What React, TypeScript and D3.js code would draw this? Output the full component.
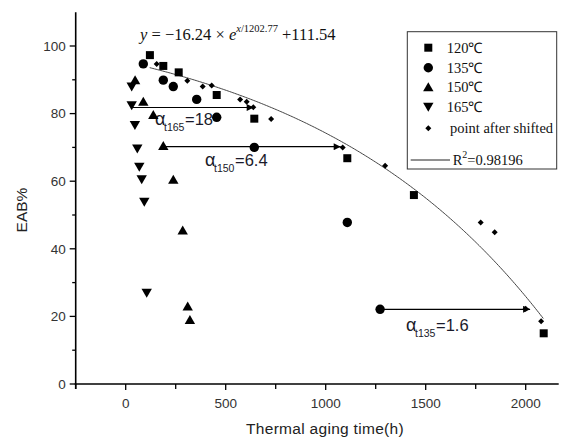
import React from 'react';
import * as d3 from 'd3';

// ---- data ----
const t120 = [121, 188, 265, 455, 643, 1108, 1441, 2090];
const eab120 = [97.3, 94.1, 92.2, 85.5, 78.5, 66.8, 55.9, 15.0];
const t135 = [88, 188, 238, 355, 455, 643, 1108, 1272];
const eab135 = [94.7, 89.9, 88.0, 84.2, 78.9, 70.0, 47.8, 22.1];
const t150 = [47, 88, 138, 188, 238, 285, 310, 321];
const eab150 = [89.9, 83.5, 79.6, 70.4, 60.4, 45.4, 22.9, 18.9];
const t165 = [30, 30, 46, 58, 68, 80, 93, 105];
const eab165 = [88.0, 82.5, 76.6, 69.7, 64.3, 60.6, 53.9, 27.0];
const tShifted = [155, 308, 385, 430, 572, 605, 638, 727, 1085, 1297, 1775, 1845, 2000, 2077];
const eabShifted = [94.7, 89.7, 88.0, 88.3, 84.2, 83.5, 81.9, 78.4, 70.0, 64.6, 47.8, 44.9, 22.3, 18.6];

const legendLabels = ['120\u2103', '135\u2103', '150\u2103', '165\u2103', 'point after shifted'];
const xTicks = [0, 500, 1000, 1500, 2000];
const yTicks = [0, 20, 40, 60, 80, 100];

// fitted model y = -16.24 * e^(x/1202.77) + 111.54
const fitA = -16.24;
const fitB = 1202.77;
const fitC = 111.54;
const fitRange = [120, 2088];

// shift arrows
const shiftTemps = ['t165', 't150', 't135'];
const shiftFrom = [30, 188, 1272];
const shiftTo = [640, 1075, 2022];
const shiftEab = [81.8, 70.2, 22.1];
const shiftFactor = ['18', '6.4', '1.6'];

const W = 566;
const H = 442;
const x = d3.scaleLinear().domain([-250, 2165]).range([75.7, 558.7]);
const y = d3.scaleLinear().domain([0, 110]).range([384, 12.2]);

const sans = '"Liberation Sans", Arial, sans-serif';
const serif = '"Liberation Serif", "Times New Roman", serif';

type Shape = 'square' | 'circle' | 'up' | 'down' | 'diamond';

function Marker({ shape, cx, cy }: { shape: Shape; cx: number; cy: number }) {
  if (shape === 'square') return <rect x={cx - 4} y={cy - 4} width={8} height={8} fill="#000" />;
  if (shape === 'circle') return <circle cx={cx} cy={cy} r={4.7} fill="#000" />;
  if (shape === 'up')
    return <path d={`M${cx},${cy - 5} L${cx + 5.2},${cy + 4} L${cx - 5.2},${cy + 4} Z`} fill="#000" />;
  if (shape === 'down')
    return <path d={`M${cx},${cy + 5} L${cx + 5.2},${cy - 4} L${cx - 5.2},${cy - 4} Z`} fill="#000" />;
  return <path d={`M${cx},${cy - 3} L${cx + 3},${cy} L${cx},${cy + 3} L${cx - 3},${cy} Z`} fill="#000" />;
}

export default function App() {
  const series: { t: number[]; v: number[]; shape: Shape }[] = [
    { t: t120, v: eab120, shape: 'square' },
    { t: t135, v: eab135, shape: 'circle' },
    { t: t150, v: eab150, shape: 'up' },
    { t: t165, v: eab165, shape: 'down' },
    { t: tShifted, v: eabShifted, shape: 'diamond' },
  ];

  const fitPts: [number, number][] = d3
    .range(fitRange[0], fitRange[1] + 1, 8)
    .map((tt) => [tt, fitA * Math.exp(tt / fitB) + fitC]);
  const fitPath = d3
    .line<[number, number]>()
    .x((d) => x(d[0]))
    .y((d) => y(d[1]))(fitPts) as string;

  const majorX = xTicks;
  const minorX = d3.range(-250, 2165, 250).filter((v) => !majorX.includes(v));
  const minorY = d3.range(10, 110, 20);

  const labelPos = [
    { x0: 155, b: 125 },
    { x0: 205, b: 166 },
    { x0: 406, b: 331 },
  ];

  const axisY0 = y(0);
  const axisX0 = x(-250);

  const legendRows = [47.7, 67.7, 87.3, 106.7, 128.3];
  const legendShapes: Shape[] = ['square', 'circle', 'up', 'down', 'diamond'];

  return (
    <svg
      width={W}
      height={H}
      style={{ position: 'absolute', left: 0, top: 0, background: '#fff' }}
    >
      <defs>
        <marker id="arr" viewBox="0 0 10 10" refX="10" refY="5" markerWidth="9" markerHeight="7" markerUnits="userSpaceOnUse" orient="auto">
          <path d="M0,0 L10,5 L0,10 Z" fill="#000" />
        </marker>
      </defs>

      {/* axes */}
      <line x1={axisX0} x2={axisX0} y1={y(110)} y2={axisY0 + 5} stroke="#000" strokeWidth={1.6} />
      <line x1={axisX0 - 1} x2={x(2165)} y1={axisY0} y2={axisY0} stroke="#000" strokeWidth={1.6} />
      {yTicks.map((v) => (
        <g key={'yt' + v}>
          <line x1={axisX0 - 6} x2={axisX0} y1={y(v)} y2={y(v)} stroke="#000" strokeWidth={1.3} />
          <text x={axisX0 - 10} y={y(v) + 4.8} textAnchor="end" fontFamily={sans} fontSize={13.5} fill="#333">
            {v}
          </text>
        </g>
      ))}
      {minorY.map((v) => (
        <line key={'ym' + v} x1={axisX0 - 3.5} x2={axisX0} y1={y(v)} y2={y(v)} stroke="#000" strokeWidth={1.3} />
      ))}
      {majorX.map((v) => (
        <g key={'xt' + v}>
          <line x1={x(v)} x2={x(v)} y1={axisY0} y2={axisY0 + 6} stroke="#000" strokeWidth={1.3} />
          <text x={x(v)} y={408} textAnchor="middle" fontFamily={sans} fontSize={13.5} fill="#333">
            {v}
          </text>
        </g>
      ))}
      {minorX.map((v) => (
        <line key={'xm' + v} x1={x(v)} x2={x(v)} y1={axisY0} y2={axisY0 + 5} stroke="#000" strokeWidth={1.3} />
      ))}
      <text x={325} y={434} textAnchor="middle" fontFamily={sans} fontSize={15.5} fill="#222" letterSpacing={0.3}>
        Thermal aging time(h)
      </text>
      <text
        transform={`translate(27,210) rotate(-90)`}
        textAnchor="middle"
        fontFamily={sans}
        fontSize={15.5}
        fill="#222"
      >
        EAB%
      </text>

      {/* fitted curve */}
      <path d={fitPath} fill="none" stroke="#444" strokeWidth={1} />

      {/* shift arrows */}
      {shiftTemps.map((tmp, i) => (
        <line
          key={'arr' + tmp}
          x1={x(shiftFrom[i])}
          x2={x(shiftTo[i])}
          y1={y(shiftEab[i])}
          y2={y(shiftEab[i])}
          stroke="#000"
          strokeWidth={1.2}
          markerEnd="url(#arr)"
        />
      ))}
      {shiftTemps.map((tmp, i) => (
        <g key={'lab' + tmp} fill="#1a1a2a">
          <text x={labelPos[i].x0} y={labelPos[i].b} fontFamily={sans} fontSize={18}>
            α
          </text>
          <text x={labelPos[i].x0 + 9} y={labelPos[i].b + 6} fontFamily={sans} fontSize={10.5}>
            {tmp}
          </text>
          <text x={labelPos[i].x0 + 30} y={labelPos[i].b} fontFamily={sans} fontSize={16.5}>
            ={shiftFactor[i]}
          </text>
        </g>
      ))}

      {/* data points */}
      {series.map((s, si) => (
        <g key={'s' + si}>
          {s.t.map((tt, j) => (
            <Marker key={j} shape={s.shape} cx={x(tt)} cy={y(s.v[j])} />
          ))}
        </g>
      ))}

      {/* equation */}
      <text x={140} y={40} fontFamily={serif} fontSize={16.5} fill="#111">
        <tspan fontStyle="italic">y</tspan>
        <tspan> = −16.24 × </tspan>
        <tspan fontStyle="italic">e</tspan>
        <tspan dy={-8} fontSize={10.5}>
          <tspan fontStyle="italic">x</tspan>/1202.77
        </tspan>
        <tspan dy={8}> +111.54</tspan>
      </text>

      {/* legend */}
      <rect x={407.3} y={31.7} width={149.4} height={137.3} fill="#fff" stroke="#333" strokeWidth={1} />
      {legendShapes.map((sh, i) => (
        <g key={'lg' + i}>
          <Marker shape={sh} cx={428.3} cy={legendRows[i]} />
          <text x={i === 4 ? 450 : 446.7} y={legendRows[i] + 5} fontFamily={serif} fontSize={14.5} fill="#111">
            {legendLabels[i]}
          </text>
        </g>
      ))}
      <line x1={410.7} x2={450} y1={160} y2={160} stroke="#222" strokeWidth={1} />
      <text x={452.7} y={165} fontFamily={serif} fontSize={14.5} fill="#111">
        R<tspan dy={-7} fontSize={10}>2</tspan>
        <tspan dy={7}>=0.98196</tspan>
      </text>
    </svg>
  );
}
